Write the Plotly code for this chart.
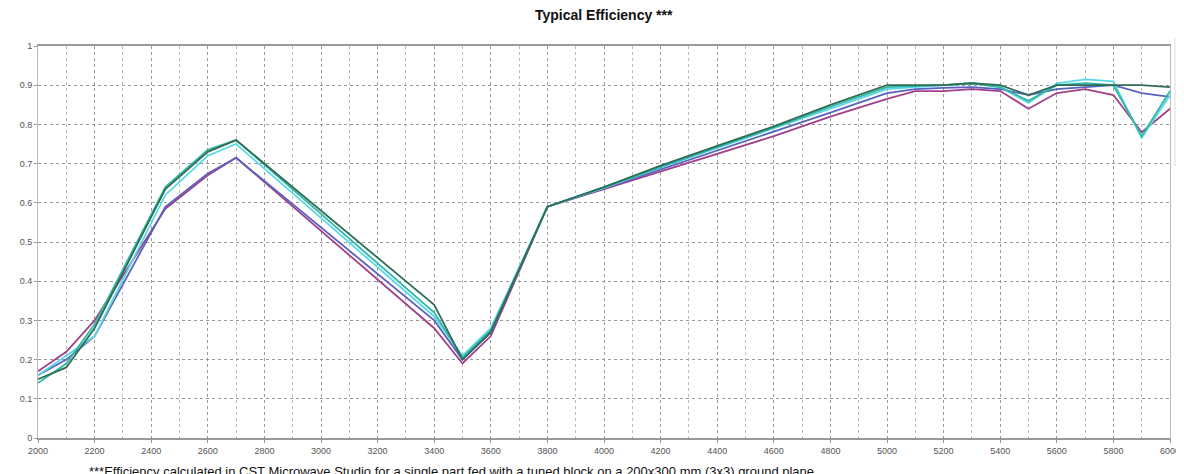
import plotly.graph_objects as go

freq = [2000, 2100, 2200, 2450, 2600, 2700, 3400, 3500, 3600, 3800, 4000, 4200, 4400, 4600, 4800,
        5000, 5100, 5200, 5300, 5400, 5500, 5600, 5700, 5800, 5900, 6000]

eff_green = [0.15, 0.18, 0.28, 0.635, 0.73, 0.76, 0.34, 0.20, 0.27, 0.59, 0.64, 0.695, 0.745, 0.795, 0.85,
             0.90, 0.90, 0.90, 0.905, 0.90, 0.875, 0.90, 0.90, 0.90, 0.90, 0.895]
eff_teal = [0.14, 0.19, 0.29, 0.64, 0.735, 0.76, 0.32, 0.205, 0.275, 0.59, 0.64, 0.692, 0.742, 0.792, 0.845,
            0.895, 0.898, 0.90, 0.905, 0.895, 0.86, 0.90, 0.905, 0.90, 0.77, 0.885]
eff_cyan = [0.16, 0.21, 0.26, 0.62, 0.72, 0.75, 0.31, 0.21, 0.28, 0.59, 0.638, 0.69, 0.74, 0.788, 0.84,
            0.89, 0.895, 0.90, 0.905, 0.895, 0.855, 0.905, 0.915, 0.91, 0.765, 0.875]
eff_blue = [0.16, 0.20, 0.26, 0.59, 0.675, 0.715, 0.30, 0.20, 0.27, 0.59, 0.637, 0.685, 0.732, 0.78, 0.83,
            0.88, 0.89, 0.893, 0.895, 0.89, 0.875, 0.89, 0.895, 0.90, 0.88, 0.87]
eff_magenta = [0.17, 0.22, 0.30, 0.585, 0.67, 0.715, 0.28, 0.19, 0.26, 0.59, 0.635, 0.68, 0.725, 0.77, 0.82,
               0.865, 0.885, 0.885, 0.89, 0.885, 0.84, 0.88, 0.89, 0.875, 0.78, 0.84]

series = [
    ("Series 5", eff_magenta, "#a0408a"),
    ("Series 4", eff_blue, "#5a62c0"),
    ("Series 3", eff_cyan, "#5ad8e8"),
    ("Series 2", eff_teal, "#2fb8a8"),
    ("Series 1", eff_green, "#2f6e55"),
]

fig = go.Figure()
for name, vals, col in series:
    fig.add_trace(go.Scatter(x=freq, y=vals, mode="lines", name=name,
                             line=dict(color=col, width=1.8)))

# page body has an 8px margin; margins compensate so the plot lands where the reference has it
fig.update_layout(
    width=1184, height=474,
    margin=dict(l=24, r=16, t=38, b=44),
    paper_bgcolor="white", plot_bgcolor="white",
    showlegend=False,
    font=dict(family="Liberation Sans, Arial", size=9, color="#555"),
)
fig.update_xaxes(range=[2000, 6000], tickvals=list(range(2000, 6001, 200)), showgrid=True,
                 gridcolor="#999", griddash="dot", gridwidth=1,
                 minor=dict(dtick=100, tick0=2000, showgrid=True, gridcolor="#bbb", griddash="dot", gridwidth=1),
                 showline=True, linecolor="#999", linewidth=2, mirror=True,
                 ticks="outside", ticklen=3, tickcolor="#999", zeroline=False,
                 ticklabeloverflow="allow",
                 tickfont=dict(size=9, color="#555"))
fig.update_yaxes(range=[0, 1], dtick=0.1, showgrid=True,
                 gridcolor="#999", griddash="dot", gridwidth=1,
                 showline=True, linecolor="#bbb", linewidth=1, mirror=True,
                 ticks="outside", ticklen=3, tickcolor="#999", zeroline=False,
                 tickfont=dict(size=9, color="#555"))

fig.add_shape(type="rect", xref="paper", yref="paper", x0=1.0044, x1=1.012, y0=0.696, y1=1.02,
              line=dict(color="#ddd", width=1), fillcolor="white")

fig.add_annotation(text="<b>Typical Efficiency ***</b>", xref="paper", yref="paper",
                   x=0.5, y=(430 - 7) / 392, xanchor="center", yanchor="middle", showarrow=False,
                   borderpad=0,
                   font=dict(family="Liberation Sans, Arial", size=14, color="#111"))

fig.add_annotation(text="***Efficiency calculated in CST Microwave Studio for a single part fed with a tuned block on a 200x300 mm (3x3) ground plane",
                   xref="paper", yref="paper", x=(82 - 32) / 1144, y=-0.062, xanchor="left", yanchor="top",
                   showarrow=False, font=dict(family="Liberation Sans, Arial", size=13, color="#111"))

fig.write_html("out.html")
